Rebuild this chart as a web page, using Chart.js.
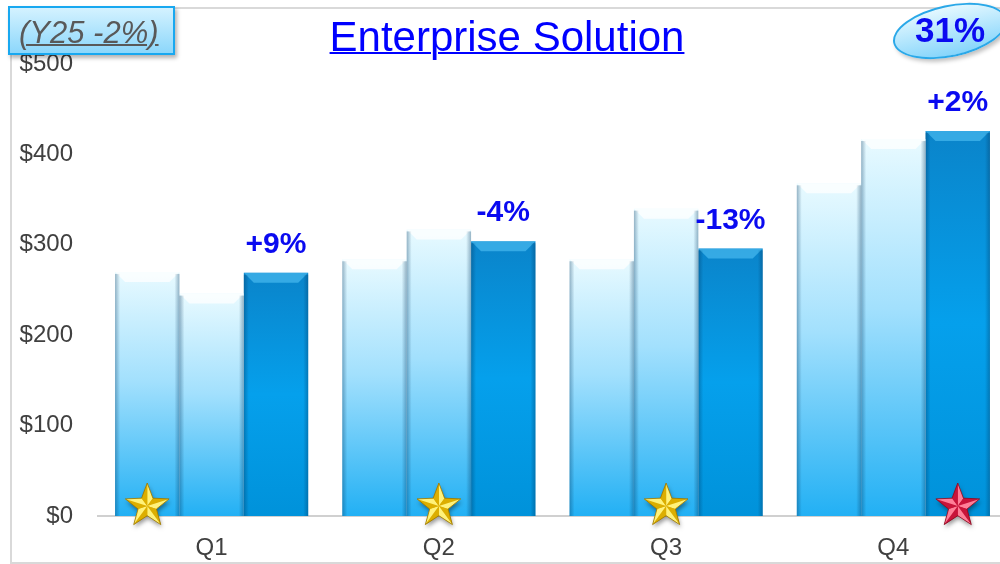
<!DOCTYPE html>
<html>
<head>
<meta charset="utf-8">
<script src="https://cdn.jsdelivr.net/npm/chart.js@4.4.1/dist/chart.umd.min.js"></script>
<style>
  html, body { margin: 0; padding: 0; background: #fff; overflow: hidden; }
  #page { position: relative; width: 1000px; height: 564px; overflow: hidden; font-family: "Liberation Sans", Arial, sans-serif; }
  #frame { position: absolute; left: 10px; top: 7px; width: 1100px; height: 553px; border: 2px solid #d9d9d9; border-right: none; }
  #chartBox { position: absolute; left: 0; top: 0; width: 1008px; height: 564px; }
  #title { position: absolute; left: 0; top: 16px; width: 1014px; text-align: center; font-size: 42px; line-height: 42px; color: #0000ff; text-decoration: underline; text-decoration-thickness: 2px; }
  #ytd { position: absolute; left: 8px; top: 6px; width: 163px; height: 45px; border: 2px solid #18a8f0; background: linear-gradient(#d4f2ff, #8cd7fb); box-shadow: 2px 3px 4px rgba(0,0,0,0.3); }
  #ytd span { position: absolute; left: 9px; top: 8px; font-size: 31px; line-height: 34px; font-style: italic; color: #595959; text-decoration: underline; text-decoration-thickness: 2px; }
  #badge { position: absolute; left: 892px; top: 5px; width: 112px; height: 48px; border: 2px solid #2aa8e8; border-radius: 50%; background: linear-gradient(#e4f8ff, #86d5fb); transform: rotate(-12deg); box-shadow: 2px 3px 4px rgba(0,0,0,0.25); }
  #badgeText { position: absolute; left: 900px; top: 11px; width: 100px; text-align: center; font-size: 35px; line-height: 38px; font-weight: bold; color: #0a0af0; }
</style>
</head>
<body>
<div id="page">
  <div id="frame"></div>
  <div id="chartBox"><canvas id="salesChart" width="1008" height="564"></canvas></div>
  <div id="title">Enterprise Solution</div>
  <div id="ytd"><span>(Y25 -2%)</span></div>
  <div id="badge"></div>
  <div id="badgeText">31%</div>
</div>
<script>
const quarters = ["Q1", "Q2", "Q3", "Q4"];
const y23 = [270, 284, 284, 368];
const y24 = [246, 317, 340, 417];
const y25 = [269, 304, 296, 426];
const changeLabels = ["+9%", "-4%", "-13%", "+2%"];
const yTicks = [0, 100, 200, 300, 400, 500];
// which bar in each quarter gets the star, and its colour
const starBar = [0, 1, 1, 2];
const starKind = ["gold", "gold", "gold", "red"];

function barFill(light) {
  return (ctx) => {
    const chart = ctx.chart;
    const area = chart.chartArea;
    if (!area || !chart.scales.y) return light ? "#7fd3fb" : "#069ce8";
    const top = chart.scales.y.getPixelForValue(ctx.raw);
    const g = chart.ctx.createLinearGradient(0, top, 0, area.bottom);
    if (light) {
      g.addColorStop(0, "#e8faff");
      g.addColorStop(0.45, "#a2e0fd");
      g.addColorStop(1, "#22b0f4");
    } else {
      g.addColorStop(0, "#0a84ca");
      g.addColorStop(0.5, "#05a0ec");
      g.addColorStop(1, "#0092da");
    }
    return g;
  };
}

function drawStar(c, cx, cy, r, kind) {
  const inner = r * 0.42;
  const pts = [];
  for (let i = 0; i < 10; i++) {
    const a = -Math.PI / 2 + i * Math.PI / 5;
    const rr = i % 2 === 0 ? r : inner;
    pts.push([cx + rr * Math.cos(a), cy + rr * Math.sin(a)]);
  }
  const light = kind === "red" ? "#ff7f98" : "#fff27a";
  const dark = kind === "red" ? "#c8143a" : "#dcae00";
  const edge = kind === "red" ? "#8a0a20" : "#9a7600";
  c.save();
  c.shadowColor = "rgba(0,0,0,0.4)";
  c.shadowBlur = 4;
  c.shadowOffsetX = 1;
  c.shadowOffsetY = 3;
  c.beginPath();
  pts.forEach((p, i) => i ? c.lineTo(p[0], p[1]) : c.moveTo(p[0], p[1]));
  c.closePath();
  c.fillStyle = dark;
  c.fill();
  c.restore();
  for (let i = 0; i < 10; i++) {
    const p1 = pts[i], p2 = pts[(i + 1) % 10];
    c.beginPath();
    c.moveTo(cx, cy);
    c.lineTo(p1[0], p1[1]);
    c.lineTo(p2[0], p2[1]);
    c.closePath();
    c.fillStyle = i % 2 === 0 ? light : dark;
    c.fill();
  }
  c.beginPath();
  pts.forEach((p, i) => i ? c.lineTo(p[0], p[1]) : c.moveTo(p[0], p[1]));
  c.closePath();
  c.strokeStyle = edge;
  c.lineWidth = 0.8;
  c.stroke();
}

const bevelPlugin = {
  id: "bevel",
  afterDatasetsDraw(chart) {
    const c = chart.ctx;
    c.save();
    chart.data.datasets.forEach((ds, di) => {
      const light = di < 2;
      chart.getDatasetMeta(di).data.forEach((bar) => {
        const l = bar.x - bar.width / 2, r = bar.x + bar.width / 2;
        const t = bar.y, b = bar.base, bv = 10;
        // top bevel
        c.beginPath();
        c.moveTo(l, t); c.lineTo(r, t); c.lineTo(r - bv, t + bv); c.lineTo(l + bv, t + bv); c.closePath();
        c.fillStyle = light ? "rgba(255,255,255,0.75)" : "rgba(90,200,250,0.55)";
        c.fill();
        // side shading
        let g = c.createLinearGradient(l, 0, l + 5, 0);
        g.addColorStop(0, "rgba(0,50,90,0.35)");
        g.addColorStop(1, "rgba(0,50,90,0)");
        c.fillStyle = g;
        c.fillRect(l, t + 2, 5, b - t - 2);
        g = c.createLinearGradient(r - 5, 0, r, 0);
        g.addColorStop(0, "rgba(0,50,90,0)");
        g.addColorStop(1, "rgba(0,50,90,0.35)");
        c.fillStyle = g;
        c.fillRect(r - 5, t + 2, 5, b - t - 2);
      });
    });
    // change labels over the Y25 bars
    c.font = "bold 30px 'Liberation Sans', Arial, sans-serif";
    c.fillStyle = "#0a0af0";
    c.textAlign = "center";
    c.textBaseline = "middle";
    chart.getDatasetMeta(2).data.forEach((bar, i) => {
      c.fillText(changeLabels[i], bar.x, bar.y - 28);
    });
    // stars at the foot of the bars
    starBar.forEach((di, i) => {
      const bar = chart.getDatasetMeta(di).data[i];
      drawStar(c, bar.x, bar.base - 10, 23, starKind[i]);
    });
    c.restore();
  }
};

new Chart(document.getElementById("salesChart"), {
  type: "bar",
  data: {
    labels: quarters,
    datasets: [
      { label: "Y23", data: y23, backgroundColor: barFill(true) },
      { label: "Y24", data: y24, backgroundColor: barFill(true) },
      { label: "Y25", data: y25, backgroundColor: barFill(false) }
    ]
  },
  options: {
    responsive: false,
    animation: false,
    categoryPercentage: 0.85,
    barPercentage: 1.0,
    layout: { padding: { top: 64, left: 0, right: 1, bottom: 0 } },
    plugins: { legend: { display: false }, tooltip: { enabled: false } },
    scales: {
      x: {
        grid: { display: false },
        border: { display: true, color: "#d0d0d0", width: 2 },
        ticks: { color: "#404040", font: { size: 24, family: "'Liberation Sans', Arial, sans-serif" }, padding: 10 },
        afterFit: (s) => { s.height = 48; }
      },
      y: {
        min: 0,
        max: 500,
        grid: { display: false, drawTicks: false },
        border: { display: false },
        afterBuildTicks: (s) => { s.ticks = yTicks.map((v) => ({ value: v })); },
        ticks: {
          color: "#404040",
          padding: 25,
          font: { size: 24, family: "'Liberation Sans', Arial, sans-serif" },
          callback: (v) => "$" + v
        },
        afterFit: (s) => { s.width = 98; }
      }
    }
  },
  plugins: [bevelPlugin]
});
</script>
</body>
</html>
